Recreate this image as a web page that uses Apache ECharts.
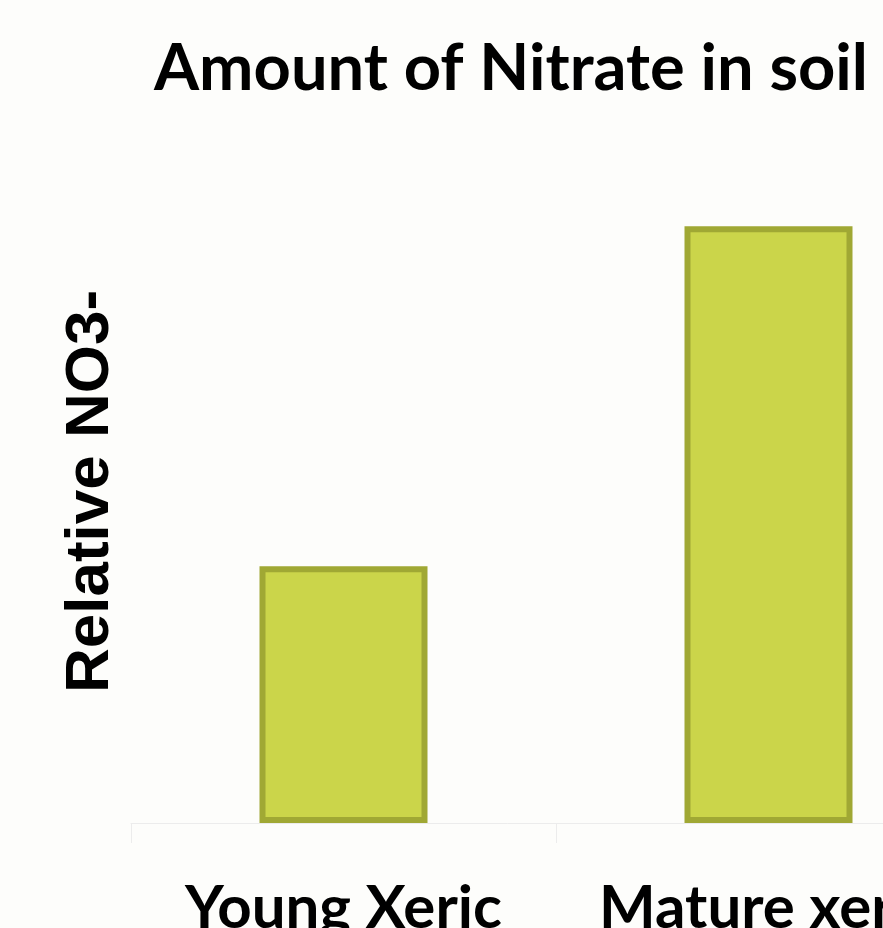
<!DOCTYPE html>
<html><head><meta charset="utf-8">
<script src="https://cdn.jsdelivr.net/npm/echarts@6/dist/echarts.min.js"></script>
<style>html,body{margin:0;padding:0;background:#fdfdfb;}#c{width:883px;height:928px;}</style>
</head><body><div id="c"></div>
<script>
const categories = ["Young Xeric", "Mature xeric"];
const values = [2.71, 6.3];
const titleText = "Amount of Nitrate in soil";
const yName = "Relative NO3-";

const chart = echarts.init(document.getElementById('c'));
chart.setOption({
  backgroundColor: '#fdfdfb',
  animation: false,
  title: {
    text: titleText, left: 506, top: 32, textAlign: 'center',
    textStyle: {fontFamily: 'Lato', fontWeight: 'bold', fontSize: 65, color: '#000'}
  },
  grid: {left: 131, width: 850, top: 160, bottom: 105, containLabel: false, outerBoundsMode: 'none'},
  xAxis: {
    type: 'category', data: categories,
    axisLine: {lineStyle: {color: '#ececec', width: 1}},
    axisTick: {show: true, length: 20, lineStyle: {color: '#ececec'}},
    axisLabel: {interval: 0, hideOverlap: false, fontFamily: 'Lato', fontWeight: 'bold', fontSize: 60, color: '#000', margin: 56}
  },
  yAxis: {
    type: 'value', min: 0, max: 7,
    name: yName, nameLocation: 'middle', nameGap: 9, nameRotate: 90,
    nameTextStyle: {fontFamily: 'Liberation Sans', fontWeight: 'bold', fontSize: 62, color: '#000'},
    axisLine: {show: false}, axisTick: {show: false}, axisLabel: {show: false}, splitLine: {show: false}
  },
  series: [{
    type: 'bar', data: values, barWidth: 168,
    itemStyle: {color: '#cbd54a', borderColor: '#a0a834', borderWidth: 6}
  }]
});
</script></body></html>
